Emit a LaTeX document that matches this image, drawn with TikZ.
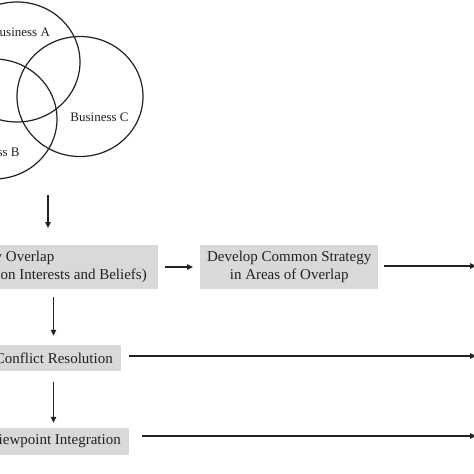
\documentclass[tikz,border=0pt]{standalone}
\usepackage{fontspec}
\setmainfont{Liberation Serif}
\usetikzlibrary{arrows.meta,shapes.geometric}
\definecolor{ink}{HTML}{222222}
\definecolor{boxgray}{HTML}{D9D9D9}
\tikzset{
  venn/.style={draw=ink, line width=1.2pt, ellipse, minimum width=126pt, minimum height=120pt, inner sep=0pt},
  vlabel/.style={text=ink, font=\fontsize{13pt}{15pt}\selectfont, inner sep=0pt},
  graybox/.style={fill=boxgray, text=ink, font=\fontsize{15pt}{18pt}\selectfont, inner ysep=0pt},
  conn/.style={draw=ink, line width=1.2pt, -{Triangle[length=6pt,width=5.5pt]}}
}
\begin{document}
\begin{tikzpicture}[x=1pt,y=-1pt]
\useasboundingbox (0,0) rectangle (474,474);
\clip (0,0) rectangle (474,474);
\fill[white] (0,0) rectangle (474,474);
% Venn
\node[venn] (A) at (17,62) {};
\node[venn] (B) at (-6,119) {};
\node[venn] (C) at (80,96.5) {};
\node[vlabel] (la) at (20.5,32) {Business A};
\node[vlabel] (lb) at (-9.5,152) {Business B};
\node[vlabel] (lc) at (99.5,117) {Business C};
% boxes
\node[graybox, anchor=east, align=left, minimum height=44pt, inner xsep=11pt] (b1) at (158,267) {Identify Overlap\\(Common Interests and Beliefs)};
\node[graybox, anchor=west, align=center, minimum height=44pt, minimum width=178pt] (b2) at (200,267) {Develop Common Strategy\\in Areas of Overlap};
\node[graybox, anchor=east, minimum height=26pt, inner xsep=8pt] (b3) at (121,358) {Conflict Resolution};
\node[graybox, anchor=east, minimum height=27pt, inner xsep=8pt] (b4) at (129,441.5) {Viewpoint Integration};
% connector ends
\coordinate (v0) at (48,195);
\coordinate (v1) at (48,228);
\coordinate (x53) at (53.5,0);
\coordinate (e2) at (476,266);
\coordinate (e3) at (476,356);
\coordinate (e4) at (476,436);
% connectors
\draw[conn] (v0) -- (v1);
\draw[conn, shorten <=7pt, shorten >=7pt] (b1.east) -- (b2.west);
\draw[conn, shorten <=6pt] (b2.east |- e2) -- (e2);
\draw[conn, shorten <=8pt, shorten >=9pt] (b1.south -| x53) -- (b3.north -| x53);
\draw[conn, shorten <=8pt] (b3.east |- e3) -- (e3);
\draw[conn, shorten <=11pt, shorten >=5pt] (b3.south -| x53) -- (b4.north -| x53);
\draw[conn, shorten <=13pt] (b4.east |- e4) -- (e4);
\end{tikzpicture}
\end{document}
